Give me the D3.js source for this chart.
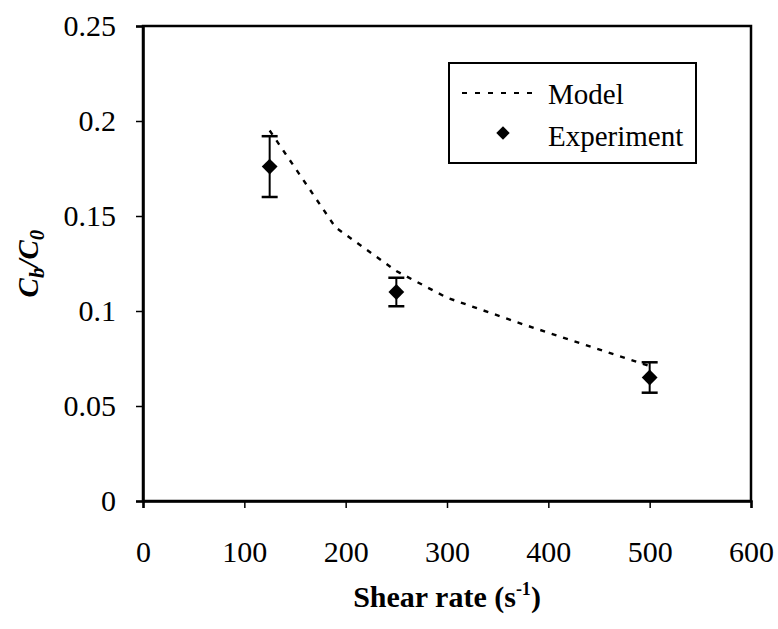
<!DOCTYPE html>
<html>
<head>
<meta charset="utf-8">
<script src="https://cdn.jsdelivr.net/npm/d3@7"></script>
<style>
  body { margin: 0; background: white; }
  text { font-family: "Liberation Serif", "Times New Roman", serif; fill: black; }
</style>
</head>
<body>
<div id="container"></div>
<script>
var width = 778,
    height = 629;

var margin = {top: 26, right: 27, bottom: 128, left: 143};

// model curve
var model_x = [125, 190, 250, 300, 375, 500];
var model_y = [0.195, 0.144, 0.121, 0.107, 0.093, 0.071];

// experiment with error bars
var exp_x = [125, 250, 500];
var exp_y = [0.176, 0.110, 0.065];
var exp_err = [0.016, 0.0075, 0.008];

var x_ticks = [0, 100, 200, 300, 400, 500, 600];
var y_ticks = [0, 0.05, 0.1, 0.15, 0.2, 0.25];

var svg = d3.select("#container")
            .append("svg")
            .attr("width", width)
            .attr("height", height);

var x = d3.scaleLinear().domain([0, 600]).range([margin.left, width - margin.right]);
var y = d3.scaleLinear().domain([0, 0.25]).range([height - margin.bottom, margin.top]);

// frame
svg.append("rect")
   .attr("x", x(0)).attr("y", y(0.25))
   .attr("width", x(600) - x(0))
   .attr("height", y(0) - y(0.25))
   .attr("fill", "none")
   .attr("stroke", "black")
   .attr("stroke-width", 2.5);

var xAxis = d3.axisBottom(x).tickValues(x_ticks).tickSize(7).tickPadding(33).tickFormat(d3.format("d"));
var yAxis = d3.axisLeft(y).tickValues(y_ticks).tickSize(7).tickPadding(20).tickFormat(function(d){ return d3.format("")(d) });

svg.append("g")
   .attr("class", "x axis")
   .attr("transform", "translate(0," + y(0) + ")")
   .call(xAxis);

svg.append("g")
   .attr("class", "y axis")
   .attr("transform", "translate(" + x(0) + ",0)")
   .call(yAxis);

svg.selectAll(".axis .domain").attr("stroke-width", 2.5);
svg.selectAll(".axis .tick line").attr("stroke-width", 1.5);
svg.selectAll(".axis text")
   .style("font-family", "Liberation Serif")
   .style("font-size", "30px");

// model line
var model = model_x.map(function(d, i){ return [d, model_y[i]] });
var line = d3.line()
             .x(function(d){ return x(d[0]) })
             .y(function(d){ return y(d[1]) });

svg.append("path")
   .datum(model)
   .attr("d", line)
   .attr("fill", "none")
   .attr("stroke", "black")
   .attr("stroke-width", 2.4)
   .attr("stroke-dasharray", "5,7");

// error bars
var exp = exp_x.map(function(d, i){ return {x: d, y: exp_y[i], e: exp_err[i]} });
var eb = svg.append("g").attr("id", "errorbars");

eb.selectAll(".ebar")
  .data(exp)
  .enter().append("line")
  .attr("x1", function(d){ return x(d.x) })
  .attr("x2", function(d){ return x(d.x) })
  .attr("y1", function(d){ return y(d.y - d.e) })
  .attr("y2", function(d){ return y(d.y + d.e) })
  .attr("stroke", "black")
  .attr("stroke-width", 2);

[-1, 1].forEach(function(s){
  eb.selectAll(".cap" + s)
    .data(exp)
    .enter().append("line")
    .attr("x1", function(d){ return x(d.x) - 8 })
    .attr("x2", function(d){ return x(d.x) + 8 })
    .attr("y1", function(d){ return y(d.y + s * d.e) })
    .attr("y2", function(d){ return y(d.y + s * d.e) })
    .attr("stroke", "black")
    .attr("stroke-width", 2.5);
});

var diamond = d3.symbol().type(d3.symbolSquare).size(125);

svg.selectAll(".pt")
   .data(exp)
   .enter().append("path")
   .attr("class", "pt")
   .attr("d", diamond)
   .attr("transform", function(d){ return "translate(" + x(d.x) + "," + y(d.y) + ") rotate(45)" })
   .attr("fill", "black");

// legend
var legend = svg.append("g").attr("id", "legend");
legend.append("rect")
      .attr("x", 449).attr("y", 63)
      .attr("width", 247).attr("height", 100)
      .attr("fill", "white")
      .attr("stroke", "black")
      .attr("stroke-width", 2);

legend.append("line")
      .attr("x1", 462).attr("x2", 540)
      .attr("y1", 93).attr("y2", 93)
      .attr("stroke", "black")
      .attr("stroke-width", 2)
      .attr("stroke-dasharray", "5,8");

legend.append("path")
      .attr("d", d3.symbol().type(d3.symbolSquare).size(90))
      .attr("transform", "translate(503,133) rotate(45)")
      .attr("fill", "black");

legend.append("text")
      .attr("x", 548).attr("y", 104)
      .style("font-size", "29px")
      .text("Model");

legend.append("text")
      .attr("x", 548).attr("y", 146)
      .style("font-size", "29px")
      .text("Experiment");

// axis titles
var xt = svg.append("text")
   .attr("x", (x(0) + x(600)) / 2)
   .attr("y", 607)
   .attr("text-anchor", "middle")
   .style("font-size", "30px")
   .style("font-weight", "bold");
xt.append("tspan").text("Shear rate (s");
xt.append("tspan").attr("dy", -12).style("font-size", "18px").text("-1");
xt.append("tspan").attr("dy", 12).text(")");

var yt = svg.append("text")
   .attr("transform", "translate(38," + ((y(0) + y(0.25)) / 2) + ") rotate(-90)")
   .attr("text-anchor", "middle")
   .style("font-size", "29px")
   .style("font-weight", "bold")
   .style("font-style", "italic");
yt.append("tspan").text("C");
yt.append("tspan").attr("dy", 6).style("font-size", "21px").text("b");
yt.append("tspan").attr("dy", -6).text("/C");
yt.append("tspan").attr("dy", 6).style("font-size", "21px").text("0");
</script>
</body>
</html>
